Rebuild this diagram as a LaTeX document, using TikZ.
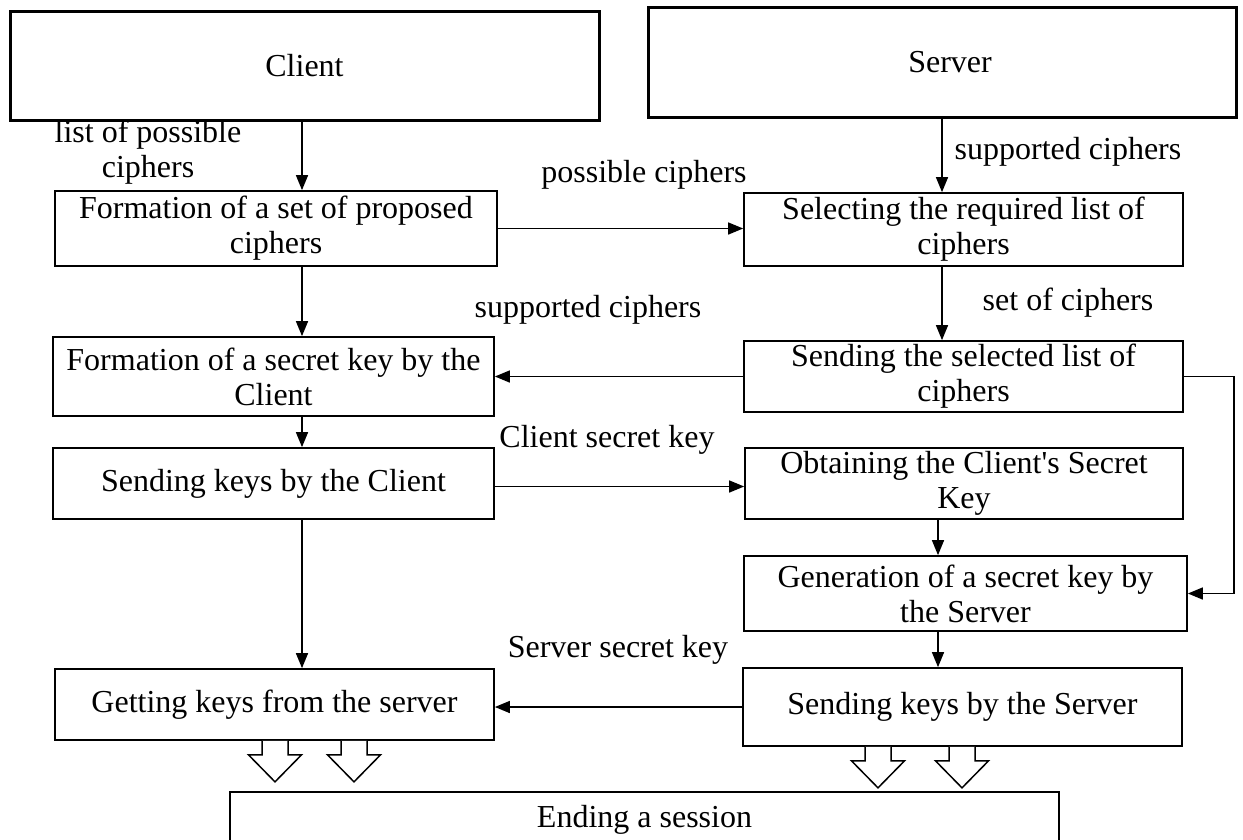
\documentclass[tikz,border=0pt]{standalone}
\usepackage{fontspec}
\setmainfont{Liberation Serif}[Ligatures=TeXOff]
\usetikzlibrary{arrows.meta,calc}
\begin{document}
\begin{tikzpicture}[x=1pt,y=-1pt,
  box/.style={draw, line width=1.7pt, rectangle, inner sep=0pt, align=center, font=\fontsize{32}{35}\selectfont},
  headbox/.style={box, line width=3pt},
  lbl/.style={inner sep=0pt, align=center, font=\fontsize{32}{35}\selectfont},
  arr/.style={line width=1.5pt, -{Triangle[length=15pt,width=12pt]}},
  hollow/.pic={\draw[line width=1.5pt, fill=white] (-13,0) -- (-13,14) -- (-26.5,14) -- (0,41) -- (26.5,14) -- (13,14) -- (13,0);}
]
\clip (0,0) rectangle (1243,839);
% column guide coordinates
\coordinate (xl) at (302,0);
\coordinate (xr) at (942,0);
\coordinate (xr2) at (938,0);
% boxes
\node[headbox, minimum width=589pt, minimum height=109pt] (client) at (304.5,65.5) {Client};
\node[headbox, minimum width=588pt, minimum height=110pt] (server) at (942,62) {\hspace*{16pt}Server};
\node[box, minimum width=442pt, minimum height=75pt] (f1) at (276,228.5) {Formation of a set of proposed\\ciphers};
\node[box, minimum width=439pt, minimum height=73pt] (s1) at (963.5,229.5) {Selecting the required list of\\ciphers};
\node[box, minimum width=441pt, minimum height=79pt] (f2) at (273.5,376.5) {Formation of a secret key by the\\Client};
\node[box, minimum width=439pt, minimum height=71pt] (s2) at (963.5,376.5) {Sending the selected list of\\ciphers};
\node[box, minimum width=441pt, minimum height=71pt] (f3) at (273.5,483.5) {Sending keys by the Client};
\node[box, minimum width=438pt, minimum height=71pt] (ob) at (964,483.5) {Obtaining the Client's Secret\\Key};
\node[box, minimum width=443pt, minimum height=75pt] (gen) at (965.5,593.5) {Generation of a secret key by\\the Server};
\node[box, minimum width=439pt, minimum height=78pt] (ss) at (962.5,707) {Sending keys by the Server};
\node[box, minimum width=439pt, minimum height=71pt] (get) at (274.5,704.5) {Getting keys from the server};
\node[box, minimum width=829pt, minimum height=56pt] (end) at (644.5,820) {Ending a session};
% labels
\node[lbl] (l1) at (148,152) {list of possible\\ciphers};
\node[lbl] (l2) at (644,175) {possible ciphers};
\node[lbl] (l3) at (1068,152) {supported ciphers};
\node[lbl] (l4) at (588,310) {supported ciphers};
\node[lbl] (l5) at (1068,303) {set of ciphers};
\node[lbl] (l6) at (607,440) {Client secret key};
\node[lbl] (l7) at (618,650) {Server secret key};
% connectors
\draw[arr] (client.south -| xl) -- (f1.north -| xl);
\draw[arr] (f1.south -| xl) -- (f2.north -| xl);
\draw[arr] (f2.south -| xl) -- (f3.north -| xl);
\draw[arr] (f3.south -| xl) -- (get.north -| xl);
\draw[arr] (server.south -| xr) -- (s1.north -| xr);
\draw[arr] (s1.south -| xr) -- (s2.north -| xr);
\draw[arr] (ob.south -| xr2) -- (gen.north -| xr2);
\draw[arr] (gen.south -| xr2) -- (ss.north -| xr2);
\draw[arr] (f1.east) -- (f1.east -| s1.west);
\draw[arr] (s2.west) -- (s2.west -| f2.east);
\draw[arr] ([yshift=-3pt]f3.east) -- ([yshift=-3pt]f3.east -| ob.west);
\draw[arr] (ss.west) -- (ss.west -| get.east);
\draw[arr] (s2.east) -- ++(50,0) |- (gen.east);
% hollow block arrows
\pic at ([xshift=0.5pt]get.south) {hollow};
\pic at ([xshift=79.5pt]get.south) {hollow};
\pic at ([xshift=-84.5pt]ss.south) {hollow};
\pic at ([xshift=-0.5pt]ss.south) {hollow};
\end{tikzpicture}
\end{document}
